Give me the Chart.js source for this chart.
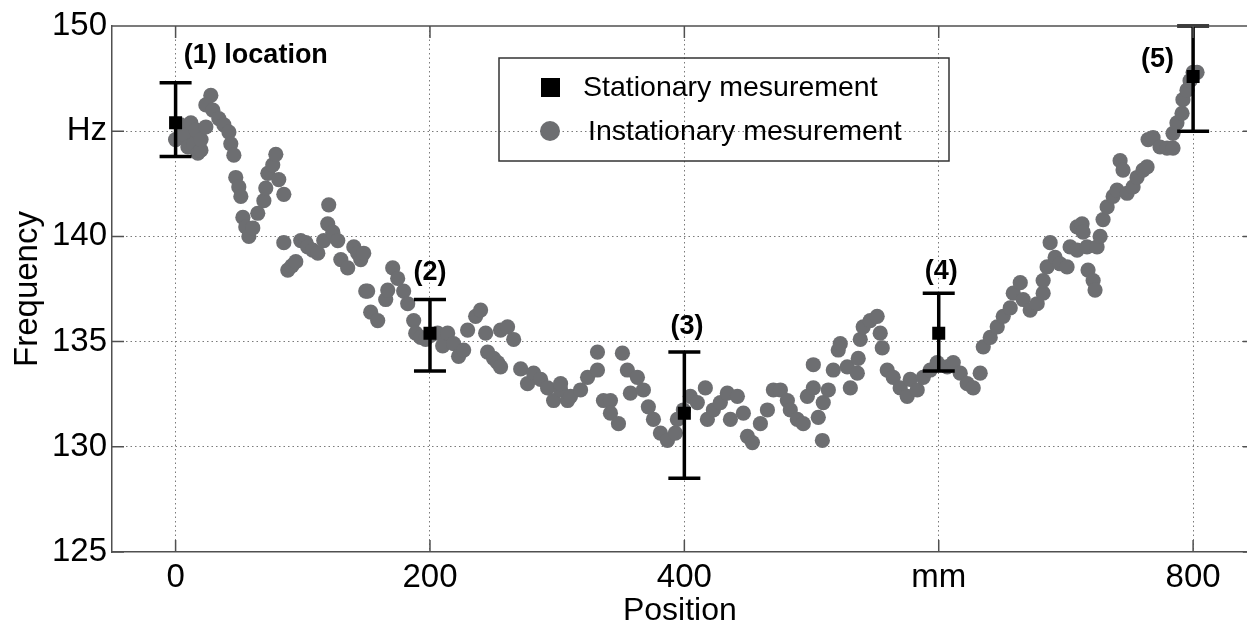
<!DOCTYPE html>
<html><head><meta charset="utf-8">
<script src="https://cdn.jsdelivr.net/npm/chart.js@4"></script>
<style>html,body{margin:0;padding:0;background:#fff;overflow:hidden}#wrap{width:1247px;height:622px;position:relative;overflow:hidden}</style>
</head><body><div id="wrap"><canvas id="c" width="1257" height="622"></canvas></div>
<script>
// Instationary measurement (grey dots)
const instX = [0,4,4,8,9.7,12,14.4,16,17.5,19.9,20,23.8,
27.7,23.8,29.3,34,38,41.9,43.4,45.8,47.3,49.7,51.3,52.9,55.2,57.6,60.7,64.6,69.4,70.9,72.5,76.4,78.8,81.1,85.1,85.1,88.2,91.4,94.5,98.4,102.4,103.9,107.8,111.8,116.5,120.4,119.6,123.6,127.5,129.9,135.3,140.1,143.2,145.6,149.5,147.9,
151,153.4,158.9,165.2,166.8,170.7,174.6,179.3,182.5,187.2,188.8,192.7,196.6,200.5,206,210,213.9,218.6,222.5,226.5,229.6,235.9,239.8,243.8,245.3,250,253.2,255.5,255.5,261,265.8,271.3,276.7,281.5,287,292.5,297.2,302.7,308.2,
302.7,310.5,318.4,323.9,331.7,331.7,336.4,341.9,341.9,348.2,351.3,355.2,357.6,363.1,367.8,371.7,375.7,381.2,386.7,392.9,394.5,399.2,404.7,410.2,416.5,418.1,422.8,428.3,433.8,436.2,441.7,446.4,449.6,453.5,459.8,465.3,470,
475.5,481,483.3,488.8,493.5,496.7,501.4,501.4,505.3,508.5,509.2,513.2,517.1,521,522.6,528.1,530.5,536,536.7,538.3,540.6,546.1,551.6,554,555.6,559.5,564.2,569.7,575.2,577.6,583.1,587.8,593.3,598.8,606.7,611.4,616.9,622.4,627.1,632.6,
635,640.5,646,650.7,656.2,658.6,664.1,666.4,671.9,677.4,682.1,682.1,685.2,687.6,691.5,695.4,700.9,703.3,708.8,708.8,712.7,713.5,716.6,717.4,721.4,722.9,724.5,726.9,729.2,732.4,737.1,740.2,742.6,744.9,748.1,752.8,755.9,760.6,763.8,764.6,768.5,774,779.5,784.2,784.2,787.3,791.3,792,795.2,797.6,800,803.1];
const instY = [144.6,144.7,145.3,144.8,144.25,145.4,144.4,145.05,143.96,144.1,144.6,145.2,
146.7,146.25,146.0,145.6,145.3,144.96,144.4,143.86,142.8,142.35,141.9,140.9,140.45,140.0,140.4,141.1,141.7,142.3,143.0,143.4,143.9,142.7,142.0,139.7,138.4,138.6,138.8,139.8,139.7,139.5,139.35,139.2,139.8,141.5,140.6,140.2,139.8,138.9,138.5,139.5,139.2,138.9,137.4,139.2,
137.4,136.4,136.0,137.0,137.45,138.5,138.0,137.4,136.8,136.0,135.4,135.2,135.1,135.3,135.4,134.8,135.4,134.9,134.3,134.6,135.55,136.2,136.5,135.4,134.5,134.2,134.0,133.8,135.55,135.7,135.1,133.7,133.0,133.5,133.2,132.8,132.2,132.7,132.2,
133.0,132.4,132.7,133.3,133.65,134.5,132.2,132.2,131.6,131.1,134.45,133.65,132.55,133.3,132.7,131.9,131.3,130.65,130.3,130.65,131.3,131.75,132.4,132.1,132.8,131.3,131.75,132.1,132.55,131.3,132.4,131.6,130.5,130.2,131.1,131.75,132.7,
132.7,132.2,131.75,131.3,131.1,132.4,132.8,133.9,131.4,130.3,132.1,132.7,133.65,134.6,134.9,133.8,132.8,133.5,134.2,135.1,135.7,136.0,136.2,135.4,134.7,133.65,133.3,132.8,132.4,133.2,132.7,133.3,133.65,134.0,133.8,134.0,133.5,133.0,132.8,133.5,
134.75,135.2,135.7,136.2,136.6,137.3,137.8,137.0,136.5,136.8,137.3,137.9,138.55,139.7,139.0,138.7,138.55,139.5,139.35,140.45,140.6,140.2,139.5,138.4,137.9,137.45,139.5,140.0,140.8,141.4,141.9,142.2,143.6,143.15,142.05,142.35,142.8,143.15,143.3,144.6,144.7,144.25,144.2,144.2,144.9,145.4,145.85,146.5,146.95,147.4,147.8,147.8];

// Stationary measurement (black squares with error bars)
const statX    = [0, 200, 400, 600, 800];
const statY    = [145.4, 135.4, 131.6, 135.4, 147.6];
const statLow  = [143.8, 133.6, 128.5, 133.6, 145.0];
const statHigh = [147.3, 137.0, 134.5, 137.3, 150.0];

const xTickValues = [0, 200, 400, 600, 800];
const xTickLabels = ['0', '200', '400', 'mm', '800'];
const yTickValues = [125, 130, 135, 140, 145, 150];
const yTickLabels = ['125', '130', '135', '140', 'Hz', '150'];

const annoText = ['(1) location', '(2)', '(3)', '(4)', '(5)'];
const annoX = [6.5, 200, 402, 602, 772];
const annoY = [148.6, 138.3, 135.7, 138.35, 148.4];
const annoAlign = ['left', 'center', 'center', 'center', 'center'];

const legendLabels = ['Stationary mesurement', 'Instationary mesurement'];

const FONT = "'Liberation Sans', Arial, Helvetica, sans-serif";
const GREY = '#6d6e71';
const AXIS = '#505050';

const overlay = {
  id: 'overlay',
  afterDatasetsDraw(chart) {
    const ctx = chart.ctx, xs = chart.scales.x, ys = chart.scales.y;
    ctx.save();
    ctx.strokeStyle = '#000';
    ctx.lineWidth = 3.5;
    for (let i = 0; i < statX.length; i++) {
      const px = xs.getPixelForValue(statX[i]);
      const pl = ys.getPixelForValue(statLow[i]);
      const ph = ys.getPixelForValue(statHigh[i]);
      ctx.beginPath();
      ctx.moveTo(px, pl); ctx.lineTo(px, ph);
      ctx.moveTo(px - 16, pl); ctx.lineTo(px + 16, pl);
      ctx.moveTo(px - 16, ph); ctx.lineTo(px + 16, ph);
      ctx.stroke();
    }
    ctx.restore();
  },
  afterDraw(chart) {
    const ctx = chart.ctx, xs = chart.scales.x, ys = chart.scales.y, a = chart.chartArea;
    ctx.save();
    ctx.strokeStyle = AXIS;
    ctx.lineWidth = 1.5;
    ctx.beginPath();
    ctx.moveTo(a.left, a.top); ctx.lineTo(a.right, a.top);
    xTickValues.forEach(v => {
      const px = xs.getPixelForValue(v);
      ctx.moveTo(px, a.bottom); ctx.lineTo(px, a.bottom - 12);
      ctx.moveTo(px, a.top); ctx.lineTo(px, a.top + 12);
    });
    yTickValues.forEach(v => {
      const py = ys.getPixelForValue(v);
      ctx.moveTo(a.left, py); ctx.lineTo(a.left + 12, py);
      ctx.moveTo(a.right, py); ctx.lineTo(a.right - 5, py);
    });
    ctx.stroke();
    ctx.fillStyle = '#000';
    ctx.font = 'bold 27px ' + FONT;
    ctx.textBaseline = 'middle';
    for (let i = 0; i < annoText.length; i++) {
      ctx.textAlign = annoAlign[i];
      ctx.fillText(annoText[i], xs.getPixelForValue(annoX[i]), ys.getPixelForValue(annoY[i]));
    }
    const L = 499, T = 58, R = 949, B = 161;
    ctx.strokeStyle = '#333';
    ctx.lineWidth = 1.5;
    ctx.strokeRect(L, T, R - L, B - T);
    ctx.fillStyle = '#000';
    ctx.fillRect(541, 78, 19, 19);
    ctx.fillStyle = GREY;
    ctx.beginPath(); ctx.arc(550, 131, 10, 0, Math.PI * 2); ctx.fill();
    ctx.fillStyle = '#000';
    ctx.font = '28.5px ' + FONT;
    ctx.textAlign = 'left';
    ctx.fillText(legendLabels[0], 583, 88);
    ctx.fillText(legendLabels[1], 588, 132);
    ctx.restore();
  }
};

new Chart(document.getElementById('c'), {
  type: 'scatter',
  data: {
    datasets: [
      {
        label: legendLabels[0],
        data: statX.map((x, i) => ({ x, y: statY[i] })),
        pointStyle: 'rect', pointRadius: 9.2, backgroundColor: '#000', borderWidth: 0, order: 0
      },
      {
        label: legendLabels[1],
        data: instX.map((x, i) => ({ x, y: instY[i] })),
        pointStyle: 'circle', pointRadius: 7.6, backgroundColor: GREY, borderWidth: 0, order: 1
      }
    ]
  },
  options: {
    responsive: false, animation: false, devicePixelRatio: 1, events: [],
    layout: { padding: { top: 26, right: 0, left: 0, bottom: 0 } },
    plugins: { legend: { display: false }, tooltip: { enabled: false } },
    scales: {
      x: {
        type: 'linear', min: -50, max: 843,
        afterBuildTicks: s => { s.ticks = xTickValues.map(v => ({ value: v })); },
        afterFit: s => { s.height = 70; },
        ticks: { callback: (v, i) => xTickLabels[i], font: { family: FONT, size: 33 }, color: '#000', padding: 6, maxRotation: 0, autoSkip: false },
        grid: { color: '#7a7a7a', lineWidth: 1, drawTicks: false },
        border: { display: true, color: AXIS, width: 1.5, dash: [1.5, 3] },
        title: { display: true, text: 'Position', font: { family: FONT, size: 32 }, color: '#000', padding: { top: 0, bottom: -8 } }
      },
      y: {
        type: 'linear', min: 125, max: 150,
        afterBuildTicks: s => { s.ticks = yTickValues.map(v => ({ value: v })); },
        afterFit: s => { s.width = 112; },
        ticks: { callback: (v, i) => yTickLabels[i], font: { family: FONT, size: 33 }, color: '#000', padding: 5, autoSkip: false },
        grid: { color: c => (c.tick && (c.tick.value === 125 || c.tick.value === 150)) ? 'rgba(0,0,0,0)' : '#7a7a7a', lineWidth: 1, drawTicks: false },
        border: { display: true, color: AXIS, width: 1.5, dash: [1.5, 3] },
        title: { display: true, text: 'Frequency', font: { family: FONT, size: 33 }, color: '#000', padding: { top: 8, bottom: 0 } }
      }
    }
  },
  plugins: [overlay]
});
</script>
</body></html>
